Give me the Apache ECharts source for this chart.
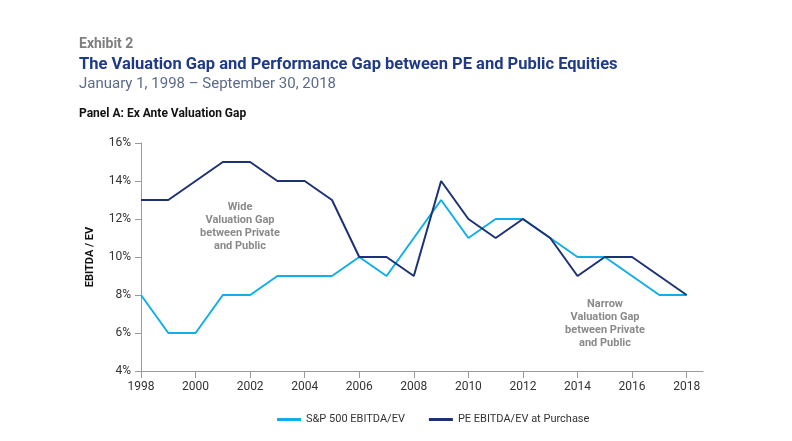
<!DOCTYPE html>
<html><head><meta charset="utf-8">
<script src="https://cdn.jsdelivr.net/npm/echarts@6/dist/echarts.min.js"></script>
<style>html,body{margin:0;padding:0;background:#fff}#c{width:792px;height:441px}</style>
</head><body><div id="c"></div>
<script>
const years = [1998,1999,2000,2001,2002,2003,2004,2005,2006,2007,2008,2009,2010,2011,2012,2013,2014,2015,2016,2017,2018];
const sp500 = [8,6,6,8,8,9,9,9,10,9,11,13,11,12,12,11,10,10,9,8,8];
const pe = [13,13,14,15,15,14,14,13,10,10,9,14,12,11,12,11,9,10,10,9,8];
const xTicks = [1998,2000,2002,2004,2006,2008,2010,2012,2014,2016,2018];
const seriesNames = ['S&P 500 EBITDA/EV','PE EBITDA/EV at Purchase'];
const FONT = 'Roboto, "Open Sans", sans-serif';
const chart = echarts.init(document.getElementById('c'));
const axisGray = '#9a9a9a';
chart.setOption({
  animation:false,
  textStyle:{fontFamily:FONT},
  graphic:[
    {type:'text',left:79,top:37,style:{text:'Exhibit 2',font:'bold 14px '+FONT,fill:'#7f7f7f'}},
    {type:'text',left:79,top:56,style:{text:'The Valuation Gap and Performance Gap between PE and Public Equities',font:'bold 16.5px '+FONT,fill:'#1f3a87'}},
    {type:'text',left:79,top:77,style:{text:'January 1, 1998 – September 30, 2018',font:'15px '+FONT,fill:'#5b6a8a'}},
    {type:'text',left:79,top:108,style:{text:'Panel A: Ex Ante Valuation Gap',font:'bold 12px '+FONT,fill:'#111'}},
    {type:'text',x:240,y:201,style:{text:'Wide\nValuation Gap\nbetween Private\nand Public',font:'bold 11px '+FONT,fill:'#8a8a8a',align:'center',lineHeight:13}},
    {type:'text',x:605,y:298,style:{text:'Narrow\nValuation Gap\nbetween Private\nand Public',font:'bold 11px '+FONT,fill:'#8a8a8a',align:'center',lineHeight:13}}
  ],
  legend:{top:409,left:272,icon:'rect',itemWidth:24,itemHeight:3,itemGap:24,
    textStyle:{fontSize:11,color:'#333',fontFamily:FONT},data:seriesNames},
  grid:{left:141,right:89,top:143,bottom:70},
  xAxis:{type:'value',min:1998,max:2018.6,interval:2,
    axisLine:{lineStyle:{color:axisGray}},
    axisTick:{show:true,length:7,lineStyle:{color:axisGray},customValues:xTicks},
    axisLabel:{color:'#333',fontSize:12,margin:10,customValues:xTicks,formatter:v=>String(v)},
    splitLine:{show:false}},
  yAxis:{type:'value',min:4,max:16,interval:2,
    name:'EBITDA / EV',nameLocation:'middle',nameGap:45,
    nameTextStyle:{fontWeight:'bold',fontSize:11,color:'#111'},
    axisLine:{show:true,lineStyle:{color:axisGray}},
    axisTick:{show:true,length:6,lineStyle:{color:axisGray}},
    axisLabel:{color:'#333',fontSize:12,margin:10,formatter:'{value}%'},
    splitLine:{show:false}},
  series:[
    {name:seriesNames[0],type:'line',symbol:'none',data:years.map((y,i)=>[y,sp500[i]]),
      lineStyle:{color:'#12aee8',width:2},itemStyle:{color:'#12aee8'}},
    {name:seriesNames[1],type:'line',symbol:'none',data:years.map((y,i)=>[y,pe[i]]),
      lineStyle:{color:'#1d3275',width:2},itemStyle:{color:'#1d3275'}}
  ]
});
</script></body></html>
